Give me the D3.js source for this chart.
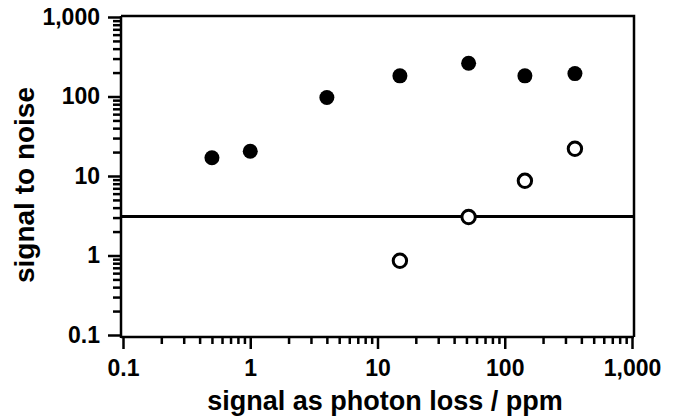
<!DOCTYPE html>
<html>
<head>
<meta charset="utf-8">
<script src="https://cdn.jsdelivr.net/npm/d3@7"></script>
<style>
  body { margin: 0; background: #fff; }
  text { font-family: "Liberation Sans", Arial, Helvetica, sans-serif; font-weight: bold; }
</style>
</head>
<body>
<script>
// photon loss (ppm) vs signal to noise
const filledX = [0.5, 1.0, 4.0, 15, 52, 144, 356]
const filledY = [17, 20.5, 97, 182, 262, 182, 194]
const openX = [15, 52, 144, 356]
const openY = [0.86, 3.05, 8.7, 22]
const threshold = 3.1
const majorTicks = [0.1, 1, 10, 100, 1000]
const tickLabels = ['0.1', '1', '10', '100', '1,000']

const width = 676
const height = 417
const margin = { top: 17, right: 44, bottom: 82, left: 122 }

const svg = d3.select('body').append('svg')
  .attr('width', width)
  .attr('height', height)

const xScale = d3.scaleLog()
  .domain([0.1, 1000])
  .range([margin.left + 1, width - margin.right])
const yScale = d3.scaleLog()
  .domain([0.1, 1000])
  .range([height - margin.bottom, margin.top])

// minor ticks 2..9 of each decade
const minorTicks = []
majorTicks.slice(0, -1).forEach(m => {
  for (let k = 2; k < 10; k++) minorTicks.push(m * k)
})

const fmt = d => tickLabels[majorTicks.indexOf(d)]

const x0 = margin.left - 1
const yBottom = height - margin.bottom + 2

// frame top + right
svg.append('path')
  .attr('d', `M${x0},${margin.top - 1}H${width - margin.right + 2}V${yBottom}`)
  .style('fill', 'none')
  .style('stroke', '#000')
  .style('stroke-width', 2.5)

const yAxis = svg.append('g')
  .attr('transform', `translate(${x0},0)`)
yAxis.append('g')
  .call(d3.axisLeft(yScale).tickValues(minorTicks).tickSize(8).tickFormat(''))
yAxis.append('g')
  .call(d3.axisLeft(yScale).tickValues(majorTicks).tickSize(13).tickPadding(8).tickFormat(fmt))

const xAxis = svg.append('g')
  .attr('transform', `translate(0,${yBottom})`)
xAxis.append('g')
  .call(d3.axisBottom(xScale).tickValues(minorTicks).tickSize(7).tickFormat(''))
xAxis.append('g')
  .call(d3.axisBottom(xScale).tickValues(majorTicks).tickSize(12).tickPadding(11).tickFormat(fmt))

yAxis.selectAll('.domain').remove()
xAxis.selectAll('.domain').remove()
yAxis.append('line')
  .attr('y1', margin.top - 1).attr('y2', yBottom + 1)
  .style('stroke', '#000').style('stroke-width', 2.5)
xAxis.append('line')
  .attr('x1', x0).attr('x2', width - margin.right + 2)
  .style('stroke', '#000').style('stroke-width', 2.5)

svg.selectAll('.tick line')
  .style('stroke', '#000')
  .style('stroke-width', 2.5)
svg.selectAll('.tick text')
  .style('font-size', '23px')
  .style('fill', '#000')

// threshold line
svg.append('line')
  .attr('x1', x0).attr('x2', width - margin.right + 2)
  .attr('y1', yScale(threshold)).attr('y2', yScale(threshold))
  .style('stroke', '#000')
  .style('stroke-width', 3)

svg.selectAll('.filled')
  .data(filledX)
  .enter().append('circle')
  .attr('class', 'filled')
  .attr('cx', d => xScale(d))
  .attr('cy', (d, i) => yScale(filledY[i]))
  .attr('r', 7.5)
  .style('fill', '#000')

svg.selectAll('.open')
  .data(openX)
  .enter().append('circle')
  .attr('class', 'open')
  .attr('cx', d => xScale(d))
  .attr('cy', (d, i) => yScale(openY[i]))
  .attr('r', 6.7)
  .style('fill', '#fff')
  .style('stroke', '#000')
  .style('stroke-width', 3)

svg.append('text')
  .attr('x', 385)
  .attr('y', 410)
  .attr('text-anchor', 'middle')
  .style('font-size', '27px')
  .text('signal as photon loss / ppm')

svg.append('text')
  .attr('transform', 'translate(34,185) rotate(-90)')
  .attr('text-anchor', 'middle')
  .style('font-size', '28px')
  .text('signal to noise')
</script>
</body>
</html>
